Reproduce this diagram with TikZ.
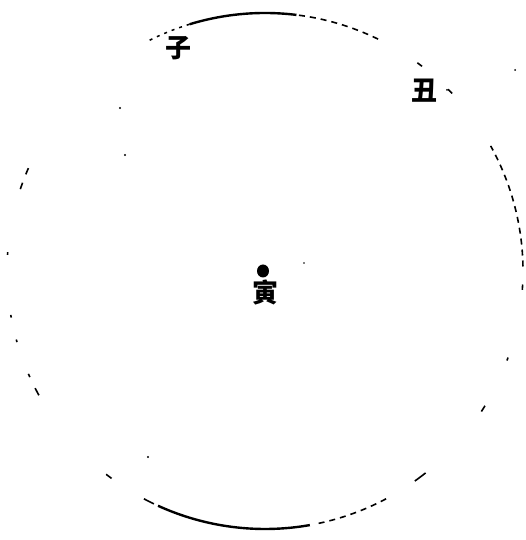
\documentclass[tikz,border=0pt]{standalone}
\usepackage{fontspec}
\usetikzlibrary{shapes.geometric}
\newfontfamily\cjk{Noto Sans CJK SC}
\begin{document}
\begin{tikzpicture}[x=1pt,y=1pt,
  rim/.style={line width=1.6pt,black},
  rimsolid/.style={line width=2.4pt,black},
  rimdash/.style={line width=1.6pt,black,dash pattern=on 6pt off 5pt},
  rimdot/.style={line width=1.5pt,black,dash pattern=on 3pt off 5pt},
  speck/.style={fill=black,inner sep=0pt,minimum size=2.4pt,circle},
  lab/.style={font=\cjk\bfseries\fontsize{26}{26}\selectfont,inner sep=0pt}]
\useasboundingbox (0,0) rectangle (525,540);
\fill[white] (0,0) rectangle (525,540);
\coordinate (C) at (265,269);
\newcommand\rimarc[3]{\draw[#1] (C) ++(#2:258) arc[start angle=#2,end angle=#3,radius=258];}
% top
\rimarc{rimdash}{64}{83}
\rimarc{rimsolid}{83}{107}
\rimarc{rimdot}{107}{117}
% right upper marks
\rimarc{rim}{52.5}{53.8}
\rimarc{rim}{43.5}{44.8}
% right arc
\rimarc{rimdash}{1}{29}
% right lower marks
\rimarc{rim}{-4.2}{-3}
\rimarc{rim}{-20.3}{-19.6}
\rimarc{rim}{-33}{-31.5}
\rimarc{rim}{-54.5}{-51.5}
% bottom right dashed
\rimarc{rimdash}{-78}{-61}
% bottom solid
\rimarc{rim}{-118}{-115.5}
\rimarc{rimsolid}{-114.5}{-80}
% left marks
\rimarc{rim}{-128}{-126.5}
\rimarc{rim}{156.5}{158}
\rimarc{rim}{160}{161.5}
\rimarc{rim}{175.8}{176.4}
\rimarc{rim}{189.8}{190.4}
\rimarc{rim}{195.4}{196}
\rimarc{rim}{203.5}{204.3}
\rimarc{rim}{207}{208.8}
% stray specks
\node[speck] (s1) at (120,432) {};
\node[speck] (s2) at (125,385) {};
\node[speck] (s3) at (148,83) {};
\node[speck,minimum size=1.8pt] (s4) at (304,277) {};
\node[speck,minimum size=2pt] (s5) at (515,470) {};
\node[speck,minimum size=2pt] (s6) at (447,450) {};
% labels
\node[lab] (zi) at (178,492) {子};
\node[lab] (chou) at (424,449) {丑};
\node[ellipse,fill=black,inner sep=0pt,minimum width=12pt,minimum height=13pt] (dot) at (263,269) {};
\node[lab] (yin) at (265,247) {寅};
\end{tikzpicture}
\end{document}
